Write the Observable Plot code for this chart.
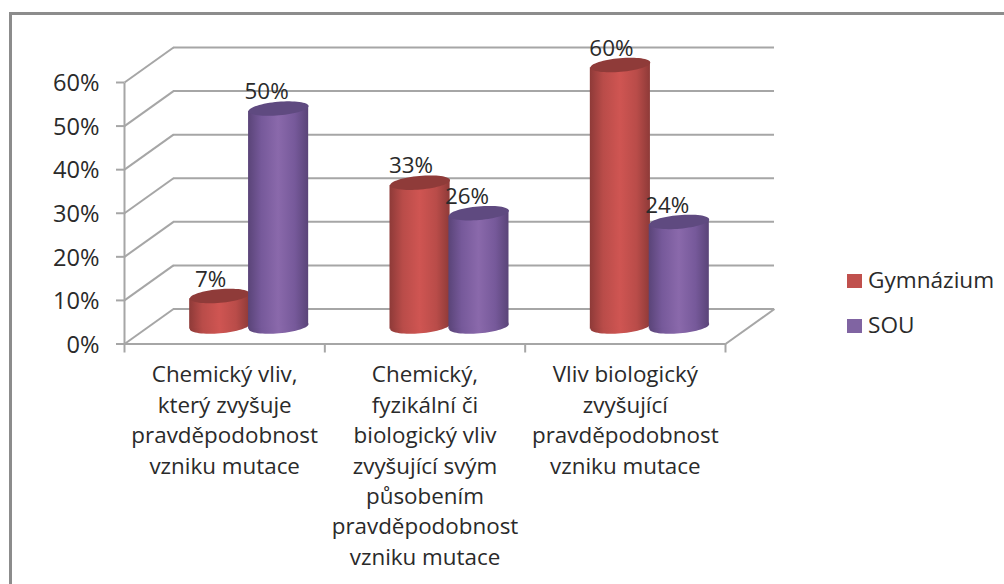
<!DOCTYPE html>
<html><head><meta charset="utf-8">
<script src="https://cdn.jsdelivr.net/npm/d3@7"></script>
<script src="https://cdn.jsdelivr.net/npm/@observablehq/plot@0.6"></script>
<style>
html,body{margin:0;padding:0;background:#fff;}
#wrap{position:relative;width:1004px;height:584px;overflow:hidden;font-family:"Open Sans",sans-serif;}
#box{position:absolute;left:9px;top:12px;width:1100px;height:700px;border:3px solid #8c8c8c;box-sizing:border-box;}
#chart{position:absolute;left:0;top:0;}
.lg{position:absolute;left:847px;font-size:22.6px;color:#2a2a2a;line-height:28px;white-space:nowrap;}
.lg i{display:inline-block;width:15px;height:14px;margin-right:6px;}
</style></head><body>
<div id="wrap"><div id="box"></div><div id="chart"></div>
<div class="lg" style="top:266px"><i style="background:#c0504d"></i>Gymnázium</div>
<div class="lg" style="top:311px"><i style="background:#8064a2"></i>SOU</div>
</div>
<script>
const categories = [
  "Chemický vliv,\nkterý zvyšuje\npravděpodobnost\nvzniku mutace",
  "Chemický,\nfyzikální či\nbiologický vliv\nzvyšující svým\npůsobením\npravděpodobnost\nvzniku mutace",
  "Vliv biologický\nzvyšující\npravděpodobnost\nvzniku mutace"
];
const gymnazium = [7, 33, 60];
const sou = [50, 26, 24];
const yTicks = [0, 10, 20, 30, 40, 50, 60];

const font = "Open Sans";
const fs = 22.4, fsNum = 23.6;
const ink = "#2a2a2a";
const depthX = 0.2446, depthY = 8.03;
const halfW = 0.15, tilt = 0.62;
const midX = depthX / 2, midY = depthY / 2;
const grid = {stroke: "#a6a6a6", strokeWidth: 2};

function ellipseSymbol(rx, ry, deg) {
  const a = deg * Math.PI / 180, c = Math.cos(a), s = Math.sin(a);
  return {draw(ctx) {
    for (let i = 0; i < 64; i++) {
      const t = i / 64 * 2 * Math.PI, ex = rx * Math.cos(t), ey = ry * Math.sin(t);
      const px = ex * c - ey * s, py = ex * s + ey * c;
      i ? ctx.lineTo(px, py) : ctx.moveTo(px, py);
    }
    ctx.closePath();
  }};
}
const ell = ellipseSymbol(30, 6.8, -5);

function defs() {
  const ns = "http://www.w3.org/2000/svg";
  const d = document.createElementNS(ns, "defs");
  const g = (id, a, b, c) => `<linearGradient id="${id}" x1="0" x2="1" y1="0" y2="0">
    <stop offset="0" stop-color="${a}"/><stop offset="0.22" stop-color="${c}"/><stop offset="0.5" stop-color="${b}"/><stop offset="0.78" stop-color="${c}"/><stop offset="1" stop-color="${a}"/></linearGradient>`;
  d.innerHTML = g("gr", "#8e3a38", "#cf5552", "#b94c49") + g("gp", "#5a4478", "#8a69ab", "#76599a");
  return d;
}

function bars(values, grad, topColor, off, labelDx) {
  const cx = (i) => i + 0.5 + midX + off;
  const rows = values.flatMap((v, i) => [
    {i, x: cx(i) - halfW, y1: midY - tilt, y2: v + midY - tilt},
    {i, x: cx(i) + halfW, y1: midY + tilt, y2: v + midY + tilt}
  ]);
  const pts = values.map((v, i) => ({x: cx(i), v}));
  return [
    Plot.dot(pts, {x: "x", y: () => midY, symbol: ell, fill: grad, stroke: "none"}),
    Plot.areaY(rows, {x: "x", y1: "y1", y2: "y2", z: "i", fill: grad, curve: "linear"}),
    Plot.dot(pts, {x: "x", y: (d) => d.v + midY, symbol: ell, fill: topColor, stroke: "none"}),
    Plot.text(pts, {x: "x", y: (d) => d.v + midY, text: (d) => d.v + "%", dx: labelDx, dy: -16.5,
      fontSize: fs, fontFamily: font, fill: ink})
  ];
}

const plot = Plot.plot({
  width: 1004, height: 584,
  marginLeft: 124, marginRight: 279, marginTop: 82, marginBottom: 240.5,
  style: {background: "transparent", overflow: "visible"},
  x: {type: "linear", domain: [0, 3]},
  y: {type: "linear", domain: [0, 60]},
  marks: [
    defs,
    Plot.ruleY(yTicks, {y: (t) => t + depthY, x1: depthX, x2: 3 + depthX, ...grid}),
    Plot.link(yTicks, {x1: () => 0, y1: (t) => t, x2: () => depthX, y2: (t) => t + depthY, ...grid}),
    Plot.link([3], {x1: (d) => d, y1: () => 0, x2: (d) => d + depthX, y2: () => depthY, ...grid}),
    Plot.link([0], {x1: () => 0, y1: () => 0, x2: () => 3, y2: () => 0, ...grid}),
    Plot.link([0], {x1: () => 0, y1: () => 0, x2: () => 0, y2: () => 60, ...grid}),
    Plot.axisY({ticks: yTicks, anchor: "left", tickSize: 8, ...grid, tickFormat: () => "", label: null}),
    Plot.text(yTicks, {x: () => 0, y: (d) => d, text: (d) => d + "%", dx: -25, dy: 1.2, textAnchor: "end",
      fontSize: fsNum, fontFamily: font, fill: ink}),
    Plot.axisX({ticks: [0, 1, 2, 3], anchor: "bottom", tickSize: 9, ...grid, tickFormat: () => "", label: null}),
    ...bars(gymnazium, "url(#gr)", "#8f3b39", -0.147, -9),
    ...bars(sou, "url(#gp)", "#5f4a80", 0.147, -12),
    Plot.text(categories, {x: (d, i) => i + 0.5, y: () => 0, text: (d) => d, lineAnchor: "top", dy: 16.5,
      lineHeight: 1.36, fontSize: fs, fontFamily: font, fill: ink})
  ]
});
document.getElementById("chart").append(plot);
</script></body></html>
